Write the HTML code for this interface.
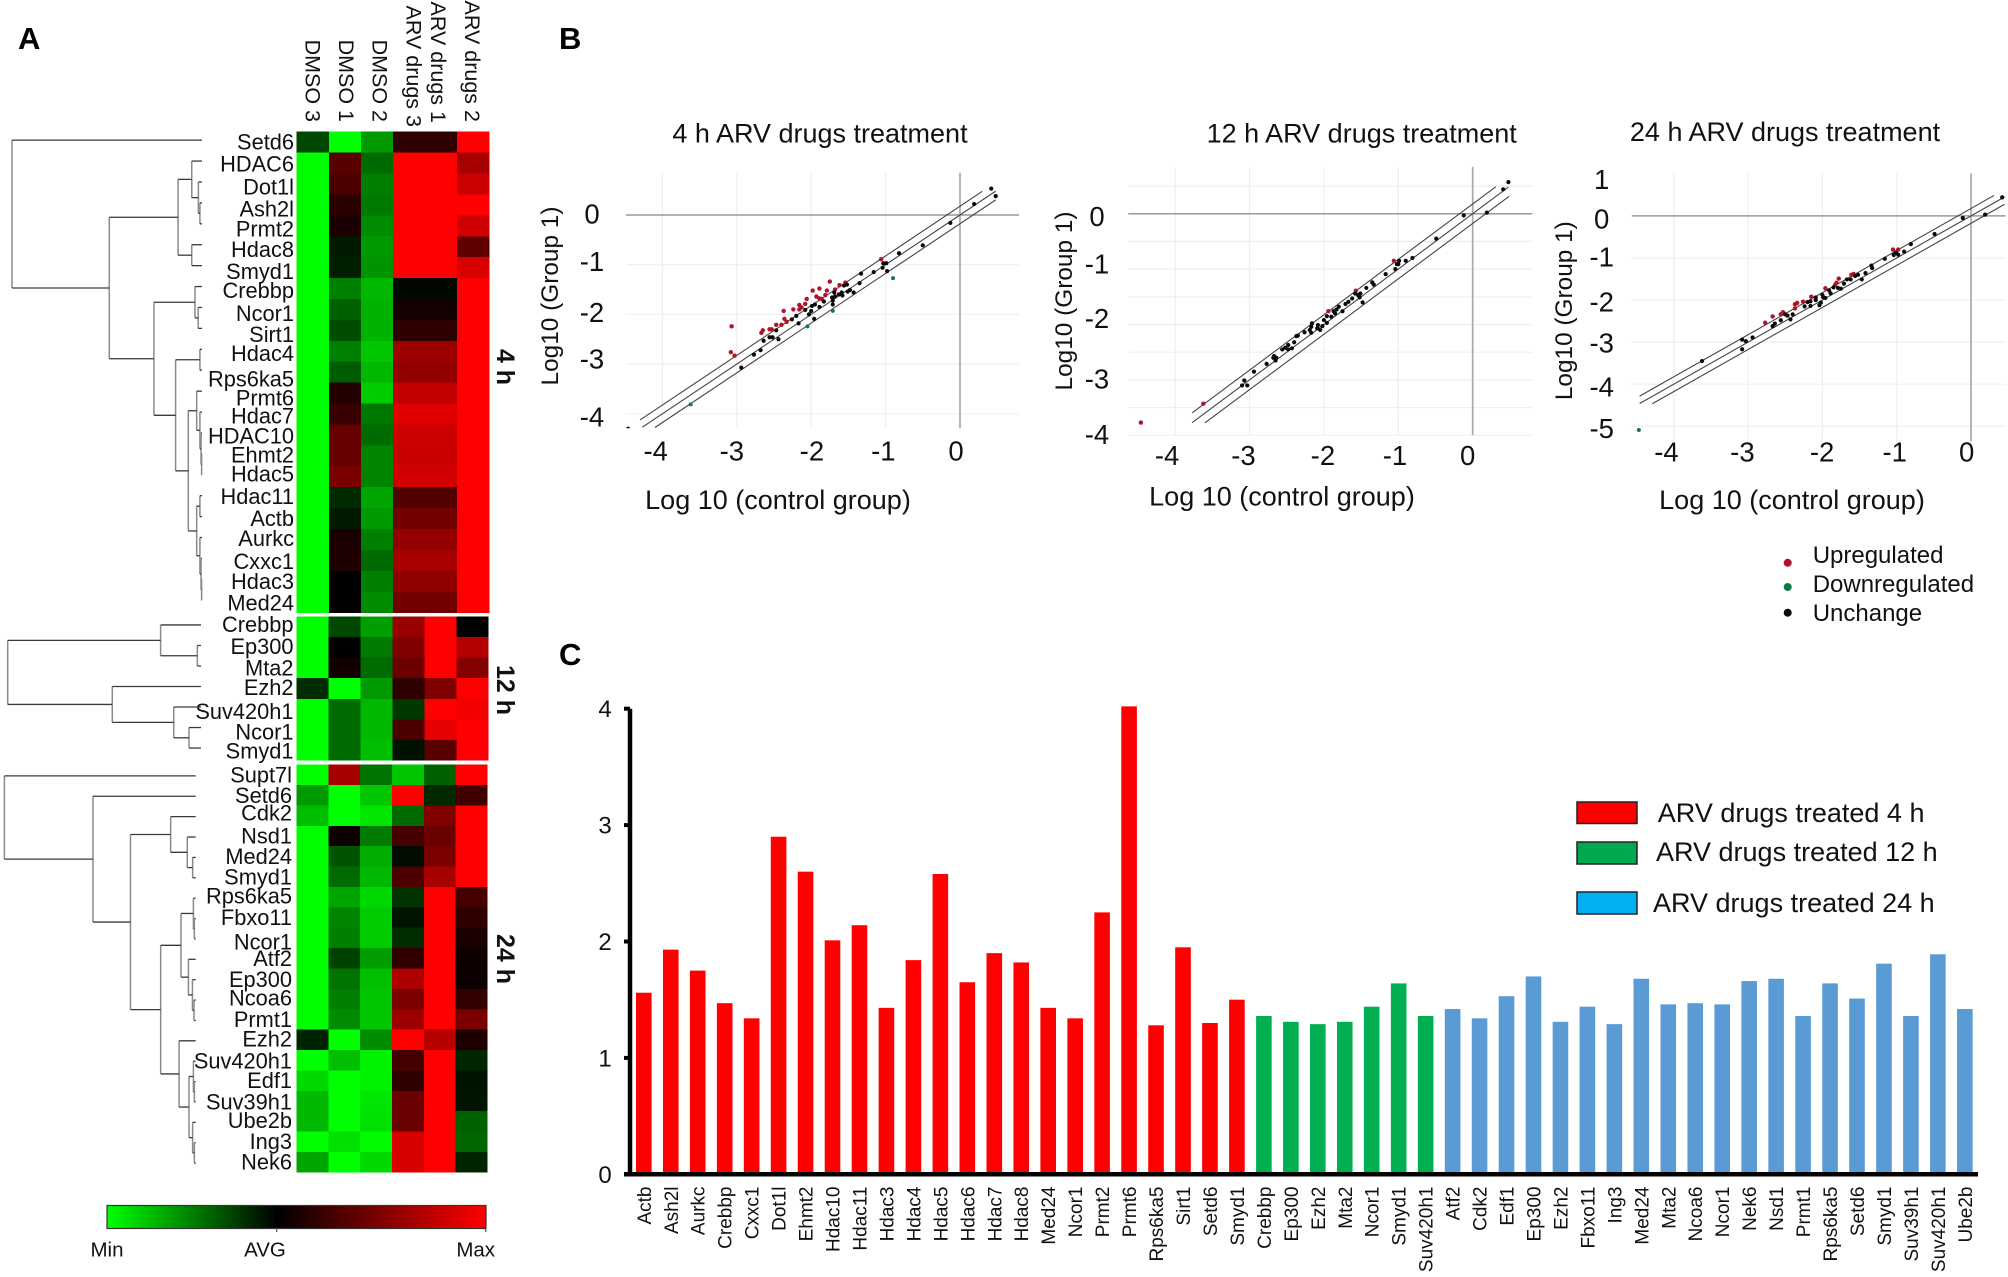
<!DOCTYPE html>
<html lang="en">
<head>
<meta charset="utf-8">
<title>ARV drugs heatmap, scatter plots and fold-change bars</title>
<style>
html,body{margin:0;padding:0;background:#fff;}
svg{display:block;}
text{font-family:"Liberation Sans",sans-serif;fill:#111;}
.heat-label{font-size:21.8px;}
.col-label{font-size:21.5px;}
.block-label{font-size:25px;font-weight:bold;}
.panel-letter{font-size:31px;font-weight:bold;fill:#000;}
.scatter-title{font-size:27px;}
.scatter-axis-title{font-size:27px;}
.scatter-y-title{font-size:24.4px;}
.scatter-tick{font-size:27.5px;}
.legend-text{font-size:24px;}
.bar-tick{font-size:24px;}
.bar-label{font-size:19px;}
.bar-legend-text{font-size:27px;}
.scale-text{font-size:20.5px;}
</style>
</head>
<body>
<svg id="figure" xmlns="http://www.w3.org/2000/svg" width="2008" height="1277" viewBox="0 0 2008 1277">
  <defs>
    <linearGradient id="heat-gradient" x1="0" x2="1" y1="0" y2="0">
      <stop offset="0" stop-color="#00ff00"/>
      <stop offset="0.448" stop-color="#000000"/>
      <stop offset="1" stop-color="#ff0000"/>
    </linearGradient>
    <clipPath id="clip-4h"><rect x="626" y="172" width="393" height="256.3"/></clipPath>
    <clipPath id="clip-12h"><rect x="1128" y="166" width="404.5" height="270"/></clipPath>
    <clipPath id="clip-24h"><rect x="1631" y="173" width="376" height="270"/></clipPath>
  </defs>
  <rect width="2008" height="1277" fill="#ffffff"/>

  <text class="panel-letter" x="18" y="49">A</text>
  <text class="panel-letter" x="559" y="49">B</text>
  <text class="panel-letter" x="559" y="665">C</text>

  <g id="heatmap">
    <text class="col-label" text-anchor="end" transform="translate(305.5,122) rotate(90)">DMSO 3</text>
    <text class="col-label" text-anchor="end" transform="translate(339,122) rotate(90)">DMSO 1</text>
    <text class="col-label" text-anchor="end" transform="translate(372.5,122) rotate(90)">DMSO 2</text>
    <text class="col-label" text-anchor="end" transform="translate(406.5,127) rotate(90)">ARV drugs 3</text>
    <text class="col-label" text-anchor="end" transform="translate(431,123) rotate(90)">ARV drugs 1</text>
    <text class="col-label" text-anchor="end" transform="translate(465,122) rotate(90)">ARV drugs 2</text>
    <text class="block-label" text-anchor="middle" transform="translate(497,367) rotate(90)">4 h</text>
    <text class="block-label" text-anchor="middle" transform="translate(497,690) rotate(90)">12 h</text>
    <text class="block-label" text-anchor="middle" transform="translate(497,959) rotate(90)">24 h</text>
  </g>

  <g id="color-scale">
    <rect x="107" y="1205.5" width="379" height="23" fill="url(#heat-gradient)" stroke="#333" stroke-width="1.2"/>
    <line x1="276.7" x2="276.7" y1="1228" y2="1232" stroke="#555" stroke-width="1.2"/>
    <line x1="485.7" x2="485.7" y1="1228" y2="1232" stroke="#555" stroke-width="1.2"/>
    <text class="scale-text" x="107" y="1256.6" text-anchor="middle">Min</text>
    <text class="scale-text" x="265" y="1256.6" text-anchor="middle">AVG</text>
    <text class="scale-text" x="475.7" y="1256.6" text-anchor="middle">Max</text>
  </g>

  <g id="scatters">
    <text class="scatter-title" x="820" y="142.7" text-anchor="middle">4 h ARV drugs treatment</text>
    <text class="scatter-title" x="1361.7" y="142.7" text-anchor="middle">12 h ARV drugs treatment</text>
    <text class="scatter-title" x="1785" y="141" text-anchor="middle">24 h ARV drugs treatment</text>
    <text class="scatter-axis-title" x="778" y="509" text-anchor="middle">Log 10 (control group)</text>
    <text class="scatter-axis-title" x="1282" y="505.5" text-anchor="middle">Log 10 (control group)</text>
    <text class="scatter-axis-title" x="1792" y="509" text-anchor="middle">Log 10 (control group)</text>
    <text class="scatter-y-title" text-anchor="middle" transform="translate(558,296) rotate(-90)">Log10 (Group 1)</text>
    <text class="scatter-y-title" text-anchor="middle" transform="translate(1072,301) rotate(-90)">Log10 (Group 1)</text>
    <text class="scatter-y-title" text-anchor="middle" transform="translate(1572,310.7) rotate(-90)">Log10 (Group 1)</text>
  </g>

  <g id="scatter-legend">
    <circle cx="1787.7" cy="562.8" r="4" fill="#b0142a"/>
    <circle cx="1787.7" cy="587" r="4" fill="#0e7a4a"/>
    <circle cx="1787.7" cy="612.7" r="4" fill="#0a0a0a"/>
    <text class="legend-text" x="1812.7" y="563">Upregulated</text>
    <text class="legend-text" x="1812.7" y="592">Downregulated</text>
    <text class="legend-text" x="1812.7" y="621">Unchange</text>
  </g>

  <g id="bars"></g>

  <g id="bar-legend">
    <rect x="1577" y="802" width="60" height="21.5" fill="#ff0000" stroke="#222" stroke-width="1.5"/>
    <rect x="1577" y="842" width="60" height="22" fill="#00a850" stroke="#222" stroke-width="1.5"/>
    <rect x="1577" y="892" width="60" height="22" fill="#00b0f0" stroke="#222" stroke-width="1.5"/>
    <text class="bar-legend-text" x="1657.8" y="822">ARV drugs treated 4 h</text>
    <text class="bar-legend-text" x="1656" y="861">ARV drugs treated 12 h</text>
    <text class="bar-legend-text" x="1653" y="912">ARV drugs treated 24 h</text>
  </g>
</svg>

<script>
/* ---------- Heatmap data: -1 = Min (green), 0 = AVG (black), 1 = Max (red) ---------- */
const heatGenes4h = ["Setd6","HDAC6","Dot1l","Ash2l","Prmt2","Hdac8","Smyd1","Crebbp","Ncor1","Sirt1","Hdac4","Rps6ka5","Prmt6","Hdac7","HDAC10","Ehmt2","Hdac5","Hdac11","Actb","Aurkc","Cxxc1","Hdac3","Med24"];
const heatValues4h = [
[-.28,-1,-.6,.18,.18,1],[-1,.35,-.42,1,1,.65],[-1,.3,-.5,1,1,.8],[-1,.17,-.48,1,1,1],[-1,.1,-.55,1,1,.82],
[-1,-.1,-.6,1,1,.37],[-1,-.12,-.58,1,1,.85],[-1,-.5,-.72,-.03,-.03,1],[-1,-.38,-.7,.08,.08,1],[-1,-.3,-.7,.18,.18,1],
[-1,-.5,-.78,.62,.62,1],[-1,-.36,-.72,.58,.58,1],[-1,.14,-.8,.76,.76,1],[-1,.22,-.47,.88,.88,1],[-1,.4,-.42,.8,.8,1],
[-1,.4,-.52,.78,.78,1],[-1,.48,-.52,.82,.82,1],[-1,-.17,-.65,.32,.32,1],[-1,-.1,-.6,.45,.45,1],[-1,.1,-.5,.58,.58,1],
[-1,.12,-.42,.65,.65,1],[-1,0,-.5,.57,.57,1],[-1,0,-.55,.45,.45,1]];
const heatTree4h = [1,0,[.488,[.126,[.054,0,[.019,0,[.011,0,0]]],[.054,0,0]],[.253,[.037,0,[.02,0,0]],[.139,[.011,0,0],[.072,[.028,0,[.011,0,[.005,0,[.002,0,0]]]],[.028,[.011,0,0],[.011,0,[.005,0,[.002,0,0]]]]]]]]];

const heatGenes12h = ["Crebbp","Ep300","Mta2","Ezh2","Suv420h1","Ncor1","Smyd1"];
const heatValues12h = [
[-1,-.28,-.62,.6,1,0],[-1,0,-.48,.5,1,.7],[-1,.07,-.42,.42,1,.52],[-.18,-1,-.6,.18,.5,1],
[-1,-.42,-.72,-.22,1,.95],[-1,-.42,-.72,.3,.9,1],[-1,-.42,-.75,-.07,.35,1]];
const heatTree12h = [1,[.209,0,[.019,0,0]],[.459,0,[.141,0,[.062,0,0]]]];

const heatGenes24h = ["Supt7l","Setd6","Cdk2","Nsd1","Med24","Smyd1","Rps6ka5","Fbxo11","Ncor1","Atf2","Ep300","Ncoa6","Prmt1","Ezh2","Suv420h1","Edf1","Suv39h1","Ube2b","Ing3","Nek6"];
const heatValues24h = [
[-1,.65,-.45,-.78,-.38,1],[-.6,-1,-.78,1,-.16,.25],[-.75,-1,-.9,-.42,.5,1],[-1,.05,-.48,.28,.42,1],[-1,-.33,-.68,-.05,.48,1],
[-1,-.42,-.72,.3,.65,1],[-1,-.65,-.85,-.2,1,.28],[-1,-.52,-.8,-.08,1,.18],[-1,-.5,-.8,-.18,1,.1],[-1,-.26,-.62,.2,1,.06],
[-1,-.45,-.75,.68,1,.05],[-1,-.5,-.78,.48,1,.2],[-1,-.55,-.78,.62,1,.48],[-.14,-1,-.55,1,.72,.12],[-1,-.75,-.95,.27,1,-.15],
[-.85,-1,-.95,.18,1,-.07],[-.72,-1,-.9,.42,1,-.08],[-.72,-1,-.88,.42,1,-.38],[-1,-.88,-.98,.85,1,-.4],[-.65,-1,-.85,.85,1,-.14]];
const heatTree24h = [1,0,[.537,0,[.341,[.131,0,[.044,0,[.016,0,0]]],[.183,[.077,[.012,0,[.007,0,0]],[.038,0,[.017,0,[.009,0,0]]]],[.087,0,[.035,[.012,0,[.007,0,0]],[.016,0,[.007,0,0]]]]]]]];

/* ---------- Scatter data: [log10 control, log10 group 1] ---------- */
const xTickValues = [-4,-3,-2,-1,0];
const foldOffsets = [0.176,0,-0.176];

const up4h = [[-3.07,-2.24],[-3.08,-2.76],[-3.03,-2.83],[-2.67,-2.37],[-2.65,-2.32],[-2.56,-2.30],[-2.53,-2.30],[-2.47,-2.21],[-2.40,-2.21],[-2.37,-1.93],[-2.36,-2.09],[-2.33,-2.15],[-2.24,-1.90],[-2.16,-1.81],[-2.16,-1.90],[-2.13,-1.86],[-2.08,-1.79],[-2.06,-1.69],[-1.98,-1.52],[-1.89,-1.48],[-1.93,-1.64],[-1.89,-1.68],[-1.86,-1.69],[-1.81,-1.61],[-1.79,-1.52],[-1.75,-1.34],[-1.68,-1.50],[-1.62,-1.41],[-1.54,-1.36],[-1.06,-0.89]];
const down4h = [[-3.62,-3.81],[-2.05,-2.24],[-1.71,-1.93],[-0.90,-1.27]];
const same4h = [[-4.46,-4.30],[-2.94,-3.07],[-2.77,-2.81],[-2.68,-2.72],[-2.64,-2.53],[-2.56,-2.46],[-2.52,-2.46],[-2.47,-2.32],[-2.44,-2.50],[-2.26,-2.10],[-2.20,-2.03],[-2.17,-2.18],[-2.08,-1.91],[-2.03,-2.00],[-2.00,-1.93],[-1.99,-1.83],[-1.95,-1.80],[-1.89,-1.85],[-1.96,-2.09],[-1.83,-1.74],[-1.72,-1.66],[-1.71,-1.72],[-1.68,-1.64],[-1.69,-1.56],[-1.71,-1.80],[-1.63,-1.60],[-1.59,-1.56],[-1.58,-1.62],[-1.56,-1.42],[-1.52,-1.40],[-1.51,-1.54],[-1.48,-1.51],[-1.43,-1.56],[-1.35,-1.37],[-1.33,-1.18],[-1.16,-1.15],[-1.04,-1.06],[-1.03,-0.97],[-0.99,-0.97],[-0.98,-1.13],[-0.82,-0.77],[-0.50,-0.61],[-0.13,-0.16],[0.19,0.22],[0.42,0.53],[0.48,0.38]];
const yTicks4h = [0,-1,-2,-3,-4];
const yGrid4h = [-1,-2,-3,-4];

const up12h = [[-4.46,-3.77],[-3.62,-3.43],[-1.94,-1.76],[-1.57,-1.39],[-1.06,-0.85]];
const down12h = [];
const same12h = [[-3.07,-3.01],[-3.10,-3.10],[-3.03,-3.10],[-2.94,-2.85],[-2.77,-2.71],[-2.68,-2.60],[-2.67,-2.57],[-2.65,-2.65],[-2.64,-2.60],[-2.56,-2.45],[-2.52,-2.42],[-2.48,-2.37],[-2.48,-2.45],[-2.43,-2.43],[-2.40,-2.32],[-2.37,-2.21],[-2.35,-2.20],[-2.26,-2.14],[-2.19,-2.10],[-2.17,-2.15],[-2.16,-1.98],[-2.17,-2.04],[-2.09,-2.07],[-2.08,-2.01],[-2.05,-2.10],[-2.02,-2.03],[-2.00,-1.92],[-1.96,-1.97],[-1.96,-1.85],[-1.90,-1.86],[-1.87,-1.76],[-1.85,-1.80],[-1.83,-1.73],[-1.80,-1.68],[-1.75,-1.76],[-1.71,-1.63],[-1.67,-1.59],[-1.62,-1.53],[-1.58,-1.44],[-1.54,-1.47],[-1.51,-1.44],[-1.52,-1.51],[-1.48,-1.60],[-1.43,-1.34],[-1.35,-1.24],[-1.33,-1.28],[-1.17,-1.09],[-1.04,-1.00],[-1.02,-0.91],[-0.99,-0.85],[-1.00,-0.91],[-0.90,-0.85],[-0.81,-0.80],[-0.49,-0.45],[-0.12,-0.03],[0.19,0.02],[0.41,0.44],[0.48,0.57]];
const yTicks12h = [0,-1,-2,-3,-4];
const yGrid12h = [0.5,-0.5,-1,-1.5,-2,-2.5,-3,-3.5,-4];

const up24h = [[-2.77,-2.54],[-2.67,-2.39],[-2.56,-2.34],[-2.53,-2.29],[-2.37,-2.20],[-2.37,-2.10],[-2.34,-2.07],[-2.26,-2.04],[-2.15,-1.92],[-1.96,-1.72],[-1.83,-1.64],[-1.81,-1.59],[-1.78,-1.49],[-1.61,-1.40],[-1.58,-1.38],[-1.05,-0.80],[-0.98,-0.80]];
const down24h = [[-4.47,-5.09]];
const same24h = [[-3.62,-3.45],[-3.08,-3.17],[-3.08,-2.94],[-3.03,-2.98],[-2.94,-2.89],[-2.67,-2.62],[-2.64,-2.56],[-2.56,-2.48],[-2.50,-2.34],[-2.47,-2.37],[-2.43,-2.46],[-2.40,-2.34],[-2.24,-2.15],[-2.20,-2.05],[-2.16,-2.14],[-2.16,-2.03],[-2.09,-2.00],[-2.09,-1.94],[-2.04,-2.12],[-2.02,-2.06],[-2.00,-1.88],[-1.99,-1.93],[-1.96,-1.95],[-1.91,-1.77],[-1.89,-1.84],[-1.85,-1.70],[-1.79,-1.71],[-1.75,-1.73],[-1.71,-1.61],[-1.67,-1.51],[-1.62,-1.51],[-1.56,-1.43],[-1.52,-1.40],[-1.47,-1.51],[-1.42,-1.36],[-1.34,-1.18],[-1.33,-1.24],[-1.16,-1.02],[-1.04,-0.93],[-1.01,-0.87],[-0.98,-0.92],[-0.90,-0.85],[-0.81,-0.67],[-0.49,-0.43],[-0.11,-0.05],[0.19,0.03],[0.42,0.44]];
const yTicks24h = [1,0,-1,-2,-3,-4,-5];
const yGrid24h = [-1,-2,-3,-4,-5];

/* ---------- Bar chart data ---------- */
const barTicks = [0,1,2,3,4];
const barGenes4h = ["Actb","Ash2l","Aurkc","Crebbp","Cxxc1","Dot1l","Ehmt2","Hdac10","Hdac11","Hdac3","Hdac4","Hdac5","Hdac6","Hdac7","Hdac8","Med24","Ncor1","Prmt2","Prmt6","Rps6ka5","Sirt1","Setd6","Smyd1"];
const barValues4h = [1.56,1.93,1.75,1.47,1.34,2.90,2.60,2.01,2.14,1.43,1.84,2.58,1.65,1.90,1.82,1.43,1.34,2.25,4.02,1.28,1.95,1.30,1.50];
const barGenes12h = ["Crebbp","Ep300","Ezh2","Mta2","Ncor1","Smyd1","Suv420h1"];
const barValues12h = [1.36,1.31,1.29,1.31,1.44,1.64,1.36];
const barGenes24h = ["Atf2","Cdk2","Edf1","Ep300","Ezh2","Fbxo11","Ing3","Med24","Mta2","Ncoa6","Ncor1","Nek6","Nsd1","Prmt1","Rps6ka5","Setd6","Smyd1","Suv39h1","Suv420h1","Ube2b"];
const barValues24h = [1.42,1.34,1.53,1.70,1.31,1.44,1.29,1.68,1.46,1.47,1.46,1.66,1.68,1.36,1.64,1.51,1.81,1.36,1.89,1.42];

/* ---------- Drawing ---------- */
const NS = 'http://www.w3.org/2000/svg';
function make(tag, parent, geometry, content) {
  const node = document.createElementNS(NS, tag);
  for (const key in geometry) node.setAttribute(key, geometry[key]);
  if (content !== undefined) node.textContent = content;
  parent.appendChild(node);
  return node;
}
function heatColor(v) {
  const c = Math.round(Math.min(1, Math.abs(v)) * 255);
  return v < 0 ? 'rgb(0,' + c + ',0)' : 'rgb(' + c + ',0,0)';
}

const heatRoot = document.getElementById('heatmap');
function drawHeatBlock(genes, values, tree, box) {
  const block = make('g', heatRoot, {});
  
  
  const cellW = (box.right - box.left) / 6;
  const cellH = (box.bottom - box.top) / genes.length;
  const colX = c => box.left + c * cellW;
  const rowY = r => box.top + r * cellH;
  values.forEach((row, r) => {
    row.forEach((v, c) => {
      const cell = make('rect', block, {x: colX(c), y: rowY(r), width: cellW + 0.4, height: cellH + 0.4, fill: heatColor(v), 'shape-rendering': 'crispEdges'});
      
      
    });
    const label = make('text', block, {class: 'heat-label', x: box.labelRight, y: rowY(r) + cellH / 2 + 7.5 + box.labelNudge[r], 'text-anchor': 'end'}, genes[r]);
    
    
  });
  const dendro = make('g', block, {fill: 'none'});
  
  
  const treeX = d => box.leafX - d * box.treeSpan;
  let leaf = 0;
  function place(node) {
    if (!Array.isArray(node)) {
      const y = rowY(leaf) + cellH / 2 + box.leafShift;
      leaf += 1;
      return {x: treeX(0), y: y};
    }
    const a = place(node[1]);
    const b = place(node[2]);
    const x = treeX(node[0]);
    make('line', dendro, {x1: x, x2: x, y1: a.y, y2: b.y, stroke: '#8a8a8a', 'stroke-width': 1.5});
    make('line', dendro, {x1: x, x2: a.x, y1: a.y, y2: a.y, stroke: '#3a3a3a', 'stroke-width': 1.3});
    make('line', dendro, {x1: x, x2: b.x, y1: b.y, y2: b.y, stroke: '#3a3a3a', 'stroke-width': 1.3});
    return {x: x, y: (a.y + b.y) / 2};
  }
  place(tree);
}
drawHeatBlock(heatGenes4h, heatValues4h, heatTree4h, {left: 296.7, right: 489.3, top: 131.7, bottom: 612.7, labelRight: 294, leafX: 202, treeSpan: 190, leafShift: -2,
  labelNudge: [0,1,3,4,3,3,4,2,4,4,2,7,5,2,1,-1,-3,-1,0,-1,1,0,1]});
drawHeatBlock(heatGenes12h, heatValues12h, heatTree12h, {left: 296.7, right: 488.3, top: 616.7, bottom: 760.3, labelRight: 293.5, leafX: 201, treeSpan: 193.3, leafShift: -2,
  labelNudge: [-2.5,-1,0,-1,2.5,2.5,1]});
drawHeatBlock(heatGenes24h, heatValues24h, heatTree24h, {left: 296.7, right: 487.3, top: 764.7, bottom: 1172.3, labelRight: 292, leafX: 195.7, treeSpan: 191.3, leafShift: 1,
  labelNudge: [0,0,-2.5,0,0,0,-1,0,4,0,1,-1,0,-1,1,0,1,-1,0,0]});

const scatterRoot = document.getElementById('scatters');
function drawScatter(cfg) {
  const plot = make('g', scatterRoot, {});
  
  
  const sx = v => cfg.x0 + v * cfg.xUnit;
  const sy = v => cfg.y0 - v * cfg.yUnit;
  cfg.yGrid.forEach(v => {
    const g = make('line', plot, {x1: cfg.left, x2: cfg.right, y1: sy(v), y2: sy(v), stroke: '#efefef', 'stroke-width': 1.2});
    
    
  });
  xTickValues.slice(0, 4).forEach(v => {
    const g = make('line', plot, {x1: sx(v), x2: sx(v), y1: cfg.top, y2: cfg.bottom, stroke: '#efefef', 'stroke-width': 1.2});
    
    
  });
  const zeroH = make('line', plot, {x1: cfg.left, x2: cfg.right, y1: sy(0), y2: sy(0), stroke: '#999', 'stroke-width': 1.5});
  
  
  const zeroV = make('line', plot, {x1: sx(0), x2: sx(0), y1: cfg.top, y2: cfg.bottom, stroke: '#aaa', 'stroke-width': 1.7});
  
  
  foldOffsets.forEach((off, i) => {
    const r = cfg.lineRanges[i];
    const fold = make('line', plot, {x1: sx(r[0]), y1: sy(r[0] + off), x2: sx(r[1]), y2: sy(r[1] + off), stroke: '#444', 'stroke-width': 1.1});
    
    
  });
  const dots = make('g', plot, {'clip-path': 'url(#' + cfg.clip + ')'});
  
  
  cfg.up.forEach(p => {
    const d = make('circle', dots, {cx: sx(p[0]), cy: sy(p[1]), r: 2.2, fill: '#b0142a'});
    
    
  });
  cfg.down.forEach(p => {
    const d = make('circle', dots, {cx: sx(p[0]), cy: sy(p[1]), r: 2, fill: '#0e7a4a'});
    
    
  });
  cfg.same.forEach(p => {
    const d = make('circle', dots, {cx: sx(p[0]), cy: sy(p[1]), r: 2.1, fill: '#0a0a0a'});
    
    
  });
  xTickValues.forEach((v, i) => {
    const t = make('text', plot, {class: 'scatter-tick', x: sx(v) + cfg.xNudge[i], y: cfg.xLabelBase, 'text-anchor': 'middle'}, String(v));
    
    
  });
  cfg.yTicks.forEach((v, i) => {
    const t = make('text', plot, {class: 'scatter-tick', x: cfg.yLabelX, y: sy(v) + cfg.yNudge[i] + 9.5, 'text-anchor': 'middle'}, String(v));
    
    
  });
}
drawScatter({x0: 960, xUnit: 74.4, y0: 215, yUnit: 49.7, left: 626, right: 1019, top: 172.7, bottom: 428.3, clip: 'clip-4h',
  up: up4h, down: down4h, same: same4h, yTicks: yTicks4h, yGrid: yGrid4h,
  lineRanges: [[-4.3,0.3],[-4.27,0.48],[-4.1,0.48]],
  xNudge: [-6.7,-5,0.7,-2.3,-4], yNudge: [-1,-3,-2,-5,3], xLabelBase: 460.5, yLabelX: 592});
drawScatter({x0: 1472.7, xUnit: 74.4, y0: 213.7, yUnit: 55.4, left: 1128.3, right: 1532.3, top: 166.7, bottom: 435, clip: 'clip-12h',
  up: up12h, down: down12h, same: same12h, yTicks: yTicks12h, yGrid: yGrid12h,
  lineRanges: [[-3.77,0.31],[-3.77,0.48],[-3.6,0.49]],
  xNudge: [-8,-6,-1,-3.3,-5], yNudge: [3,-5,-6,-1,-1], xLabelBase: 465, yLabelX: 1097});
drawScatter({x0: 1971, xUnit: 74.3, y0: 215.9, yUnit: 42.07, left: 1631.7, right: 2005.7, top: 173.4, bottom: 441.4, clip: 'clip-24h',
  up: up24h, down: down24h, same: same24h, yTicks: yTicks24h, yGrid: yGrid24h,
  lineRanges: [[-4.46,0.31],[-4.46,0.45],[-4.29,0.45]],
  xNudge: [-7.3,-5.7,-0.3,-2,-4.3], yNudge: [5.5,3,-1,2,1,3,2], xLabelBase: 461.5, yLabelX: 1601.7});

const barRoot = document.getElementById('bars');
const barX = i => 643.8 + i * 26.96;
const barY = v => 1174.3 - v * 116.4;
function drawBarSeries(genes, values, start, color) {
  const series = make('g', barRoot, {});
  
  
  values.forEach((v, i) => {
    const cx = barX(start + i);
    const bar = make('rect', series, {x: cx - 7.8, y: barY(v), width: 15.6, height: barY(0) - barY(v), fill: color});
    
    
    const label = make('text', series, {class: 'bar-label', 'text-anchor': 'end', transform: 'translate(' + (cx + 7) + ',1186.5) rotate(-90)'}, genes[i]);
    
    
  });
}
drawBarSeries(barGenes4h, barValues4h, 0, '#ff0000');
drawBarSeries(barGenes12h, barValues12h, barGenes4h.length, '#00b050');
drawBarSeries(barGenes24h, barValues24h, barGenes4h.length + barGenes12h.length, '#5b9bd5');

const yAxisLine = make('line', barRoot, {x1: 630, x2: 630, y1: barY(4), y2: barY(0) + 2, stroke: '#000', 'stroke-width': 4.5});


const xAxisLine = make('line', barRoot, {x1: 624, x2: 1978, y1: barY(0), y2: barY(0), stroke: '#000', 'stroke-width': 4.5});


barTicks.forEach(v => {
  const tick = make('line', barRoot, {x1: 624, x2: 630, y1: barY(v), y2: barY(v), stroke: '#000', 'stroke-width': 4});
  
  
  const label = make('text', barRoot, {class: 'bar-tick', x: 605, y: barY(v) + 8.5, 'text-anchor': 'middle'}, String(v));
  
  
});
</script>
</body>
</html>
